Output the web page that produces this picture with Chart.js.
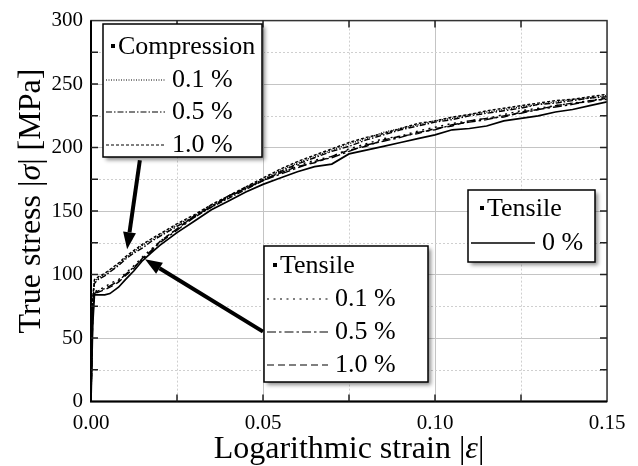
<!DOCTYPE html>
<html>
<head>
<meta charset="utf-8">
<script src="https://cdn.jsdelivr.net/npm/chart.js@4.4.0/dist/chart.umd.min.js"></script>
<style>
    html, body { margin: 0; padding: 0; background: #fff; }
    #wrap { width: 638px; height: 466px; }
</style>
</head>
<body>
<div id="wrap"><canvas id="stressChart" width="638" height="466"></canvas></div>
<script>
// logarithmic strain |e| (shared by all curves)
const strain = [0, 0.0005, 0.001, 0.002, 0.004, 0.0055, 0.008, 0.01, 0.0125, 0.015,
    0.0175, 0.02, 0.025, 0.03, 0.035, 0.04, 0.045, 0.05, 0.055, 0.06,
    0.065, 0.07, 0.075, 0.08, 0.085, 0.09, 0.095, 0.1, 0.105, 0.11,
    0.115, 0.12, 0.125, 0.13, 0.135, 0.14, 0.145, 0.15];

// true stress |sigma| [MPa]
const tensile0 = [0, 60, 84, 84, 84, 85, 90, 96, 103, 111,
    117, 123, 133, 142, 151, 158, 165, 171, 176, 181,
    185, 187, 195, 198, 201, 204, 207, 210, 214, 215,
    217, 221, 223, 225, 228, 230, 233, 236];
const tensile01 = [0, 72, 86, 88, 90, 93, 96, 101, 107, 114,
    120, 126, 136, 146, 155, 162, 169, 175, 180, 186,
    190, 193, 199, 203, 207, 209, 213, 216, 219, 221,
    223, 226, 229, 231, 233, 235, 237, 239];
const tensile05 = [0, 68, 85, 87, 89, 91, 95, 100, 106, 112,
    119, 125, 135, 145, 154, 161, 168, 174, 179, 184,
    189, 192, 197, 202, 205, 208, 212, 214, 218, 220,
    222, 225, 227, 230, 232, 234, 237, 238];
const tensile10 = [0, 65, 85, 86, 88, 90, 94, 99, 105, 113,
    118, 126, 136, 146, 153, 162, 168, 174, 180, 185,
    188, 193, 198, 201, 206, 209, 211, 215, 217, 221,
    223, 224, 228, 230, 233, 235, 236, 239];
const compression01 = [0, 80, 95, 97, 100, 103, 108, 113, 118, 123,
    127, 131, 139, 146, 154, 161, 168, 175, 182, 188,
    193, 198, 203, 207, 212, 215, 218, 221, 223, 226,
    228, 230, 232, 234, 236, 238, 239, 241];
const compression05 = [0, 78, 93, 96, 99, 102, 107, 112, 117, 121,
    126, 130, 138, 145, 153, 160, 167, 174, 181, 187,
    192, 197, 201, 206, 210, 214, 217, 220, 222, 225,
    227, 229, 231, 234, 235, 237, 239, 240];
const compression10 = [0, 82, 96, 98, 101, 104, 109, 114, 119, 124,
    128, 132, 140, 147, 155, 162, 169, 176, 183, 189,
    194, 199, 204, 208, 211, 215, 219, 221, 224, 226,
    229, 231, 233, 235, 237, 238, 240, 242];

const xTicks = [0, 0.05, 0.1, 0.15];
const yTicks = [0, 50, 100, 150, 200, 250, 300];

const SERIF = '"Liberation Serif", "Times New Roman", serif';

const DASH = {
    c01: [1, 1.5],
    c05: [6, 2, 1.5, 2],
    c10: [3, 2],
    t01: [2, 4.5],
    t05: [9, 3, 2.5, 3],
    t10: [7, 4],
    t0: []
};

function toPoints(values) {
    return values.map((v, i) => ({ x: strain[i], y: v }));
}

function makeSet(label, values, dash, width) {
    return {
        label,
        data: toPoints(values),
        borderColor: "#000",
        borderWidth: width,
        borderDash: dash,
        pointRadius: 0,
        showLine: true,
        fill: false,
        tension: 0
    };
}

function drawArrow(ctx, x1, y1, x2, y2) {
    const ang = Math.atan2(y2 - y1, x2 - x1);
    const head = 17;
    const half = 6.5;
    const bx = x2 - Math.cos(ang) * head;
    const by = y2 - Math.sin(ang) * head;
    ctx.save();
    ctx.strokeStyle = "#000";
    ctx.fillStyle = "#000";
    ctx.lineWidth = 4;
    ctx.beginPath();
    ctx.moveTo(x1, y1);
    ctx.lineTo(bx, by);
    ctx.stroke();
    ctx.beginPath();
    ctx.moveTo(x2, y2);
    ctx.lineTo(bx + Math.sin(ang) * half, by - Math.cos(ang) * half);
    ctx.lineTo(bx - Math.sin(ang) * half, by + Math.cos(ang) * half);
    ctx.closePath();
    ctx.fill();
    ctx.restore();
}

function drawLegendBox(ctx, box) {
    ctx.save();
    ctx.shadowColor = "rgba(0,0,0,0.45)";
    ctx.shadowBlur = 4;
    ctx.shadowOffsetX = 3;
    ctx.shadowOffsetY = 3;
    ctx.fillStyle = "#fff";
    ctx.fillRect(box.x, box.y, box.w, box.h);
    ctx.restore();

    ctx.save();
    ctx.strokeStyle = "#000";
    ctx.lineWidth = 1.5;
    ctx.strokeRect(box.x, box.y, box.w, box.h);

    ctx.fillStyle = "#000";
    ctx.font = "26px " + SERIF;
    ctx.textBaseline = "middle";
    ctx.fillRect(box.bulletX, box.titleY - 3, 4, 4);
    ctx.fillText(box.title, box.bulletX + 7, box.titleY);

    box.rows.forEach(row => {
        ctx.beginPath();
        ctx.setLineDash(row.dash);
        ctx.lineWidth = row.width;
        ctx.moveTo(box.x + 3, row.y);
        ctx.lineTo(box.lineEnd, row.y);
        ctx.stroke();
        ctx.setLineDash([]);
        ctx.fillText(row.text, box.textX, row.y);
    });
    ctx.restore();
}

const decorPlugin = {
    id: "decor",
    beforeDatasetsDraw(chart) {
        const { ctx, chartArea: a, scales: { x, y } } = chart;
        ctx.save();
        ctx.strokeStyle = "#cfcfcf";
        ctx.lineWidth = 1;
        ctx.setLineDash([2, 2]);
        [25, 75, 125, 175, 225, 275].forEach(v => {
            const py = Math.round(y.getPixelForValue(v)) + 0.5;
            ctx.beginPath();
            ctx.moveTo(a.left, py);
            ctx.lineTo(a.right, py);
            ctx.stroke();
        });
        [0.025, 0.075, 0.125].forEach(v => {
            const px = Math.round(x.getPixelForValue(v)) + 0.5;
            ctx.beginPath();
            ctx.moveTo(px, a.top);
            ctx.lineTo(px, a.bottom);
            ctx.stroke();
        });
        ctx.restore();
    },
    afterDatasetsDraw(chart) {
        const { ctx, chartArea: a, scales: { x, y } } = chart;

        // frame + inner ticks
        ctx.save();
        ctx.strokeStyle = "#333";
        ctx.lineWidth = 1.5;
        ctx.strokeRect(a.left, a.top, a.right - a.left, a.bottom - a.top);
        ctx.strokeStyle = "#000";
        ctx.lineWidth = 2;
        ctx.beginPath();
        ctx.moveTo(a.left, a.top);
        ctx.lineTo(a.left, a.bottom);
        ctx.lineTo(a.right, a.bottom);
        ctx.stroke();
        ctx.lineWidth = 1.5;
        ctx.strokeStyle = "#222";
        for (let v = 25; v < 300; v += 25) {
            const py = y.getPixelForValue(v);
            ctx.beginPath();
            ctx.moveTo(a.left, py);
            ctx.lineTo(a.left + 7, py);
            ctx.moveTo(a.right, py);
            ctx.lineTo(a.right - 7, py);
            ctx.stroke();
        }
        [0.025, 0.05, 0.075, 0.1, 0.125].forEach(v => {
            const px = x.getPixelForValue(v);
            ctx.beginPath();
            ctx.moveTo(px, a.bottom);
            ctx.lineTo(px, a.bottom - 7);
            ctx.moveTo(px, a.top);
            ctx.lineTo(px, a.top + 7);
            ctx.stroke();
        });
        ctx.restore();

        // arrows (tails sit on the legend boxes, heads on the curve bands)
        drawArrow(ctx,
            x.getPixelForValue(0.0142), y.getPixelForValue(190),
            x.getPixelForValue(0.0105), y.getPixelForValue(120));
        drawArrow(ctx,
            x.getPixelForValue(0.05), y.getPixelForValue(55),
            x.getPixelForValue(0.0157), y.getPixelForValue(112));

        drawLegendBox(ctx, {
            x: 103, y: 24, w: 159, h: 133,
            bulletX: 111, titleY: 47, title: "Compression",
            lineEnd: 165, textX: 172,
            rows: [
                { y: 80, dash: DASH.c01, width: 1.2, text: "0.1 %" },
                { y: 112, dash: DASH.c05, width: 1.2, text: "0.5 %" },
                { y: 145, dash: DASH.c10, width: 1.2, text: "1.0 %" }
            ]
        });
        drawLegendBox(ctx, {
            x: 264, y: 246, w: 164, h: 136,
            bulletX: 273, titleY: 266, title: "Tensile",
            lineEnd: 328, textX: 335,
            rows: [
                { y: 299, dash: DASH.t01, width: 1.2, text: "0.1 %" },
                { y: 332, dash: DASH.t05, width: 1.2, text: "0.5 %" },
                { y: 365, dash: DASH.t10, width: 1.2, text: "1.0 %" }
            ]
        });
        drawLegendBox(ctx, {
            x: 468, y: 190, w: 127, h: 72,
            bulletX: 480, titleY: 209, title: "Tensile",
            lineEnd: 535, textX: 542,
            rows: [
                { y: 243, dash: DASH.t0, width: 1.5, text: "0 %" }
            ]
        });

        // axis titles with italic symbols
        ctx.save();
        ctx.fillStyle = "#000";
        ctx.textBaseline = "alphabetic";
        const up = "32px " + SERIF;
        const it = "italic 32px " + SERIF;
        const drawParts = (parts, cx, cy) => {
            let total = 0;
            parts.forEach(p => { ctx.font = p[1]; total += ctx.measureText(p[0]).width; });
            let px = cx - total / 2;
            parts.forEach(p => {
                ctx.font = p[1];
                ctx.fillText(p[0], px, cy);
                px += ctx.measureText(p[0]).width;
            });
        };
        drawParts([["Logarithmic strain |", up], ["\u03b5", it], ["|", up]], 349, 458);
        ctx.translate(40, 201);
        ctx.rotate(-Math.PI / 2);
        drawParts([["True stress |", up], ["\u03c3", it], ["| [MPa]", up]], 0, 0);
        ctx.restore();
    }
};

new Chart(document.getElementById("stressChart"), {
    type: "scatter",
    data: {
        datasets: [
            makeSet("Tensile 0 %", tensile0, DASH.t0, 1.7),
            makeSet("Tensile 0.1 %", tensile01, DASH.t01, 1.4),
            makeSet("Tensile 0.5 %", tensile05, DASH.t05, 1.4),
            makeSet("Tensile 1.0 %", tensile10, DASH.t10, 1.4),
            makeSet("Compression 0.1 %", compression01, DASH.c01, 1.4),
            makeSet("Compression 0.5 %", compression05, DASH.c05, 1.4),
            makeSet("Compression 1.0 %", compression10, DASH.c10, 1.4)
        ]
    },
    options: {
        responsive: false,
        animation: false,
        events: [],
        layout: { padding: { top: 16, right: 31, left: 0, bottom: 0 } },
        plugins: { legend: { display: false }, tooltip: { enabled: false } },
        scales: {
            x: {
                type: "linear",
                min: 0,
                max: 0.15,
                afterFit(scale) { scale.height = 64.5; },
                afterBuildTicks(scale) { scale.ticks = xTicks.map(v => ({ value: v })); },
                ticks: {
                    color: "#000",
                    font: { family: SERIF, size: 21 },
                    padding: 9,
                    maxRotation: 0,
                    callback: v => v.toFixed(2)
                },
                grid: { color: "#c4c4c4", lineWidth: 1, drawTicks: false },
                border: { display: false }
            },
            y: {
                type: "linear",
                min: 0,
                max: 300,
                afterFit(scale) { scale.width = 91; },
                afterBuildTicks(scale) { scale.ticks = yTicks.map(v => ({ value: v })); },
                ticks: {
                    color: "#000",
                    font: { family: SERIF, size: 21 },
                    padding: 8,
                    callback: v => String(v)
                },
                grid: { color: "#c4c4c4", lineWidth: 1, drawTicks: false },
                border: { display: false }
            }
        }
    },
    plugins: [decorPlugin]
});
</script>
</body>
</html>
